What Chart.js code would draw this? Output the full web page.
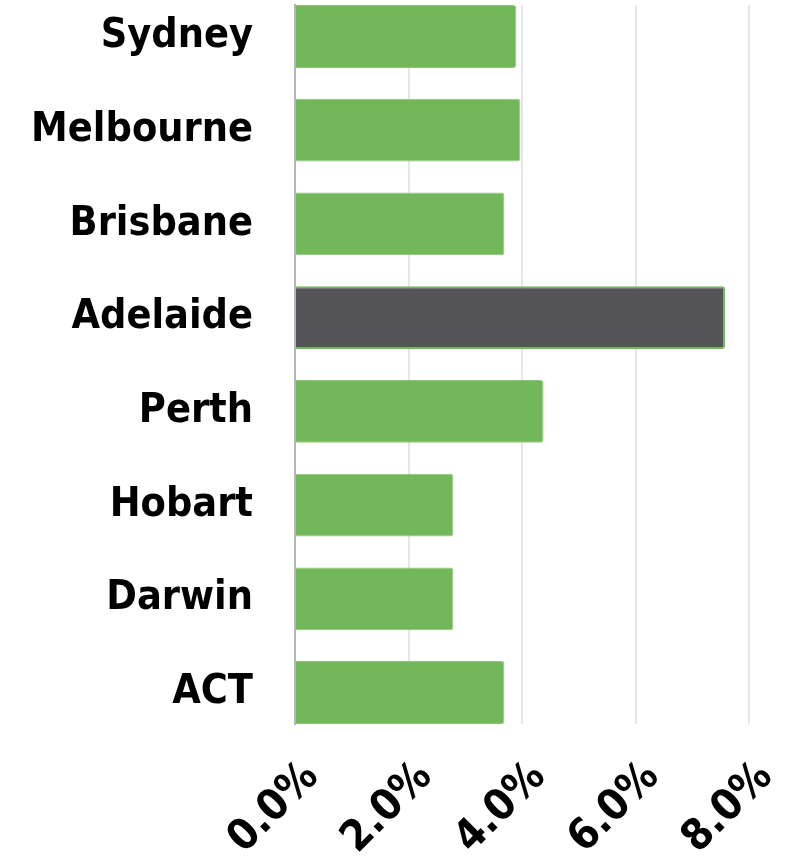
<!DOCTYPE html>
<html>
<head>
<meta charset="utf-8">
<script src="https://cdn.jsdelivr.net/npm/chart.js@4.4.1/dist/chart.umd.min.js"></script>
<style>
  html, body { margin: 0; padding: 0; background: #fff; }
  #wrap { width: 794px; height: 859px; position: relative; }
</style>
</head>
<body>
<div id="wrap"><canvas id="cityChart"></canvas></div>
<script>
// values
const cities = ['Sydney', 'Melbourne', 'Brisbane', 'Adelaide', 'Perth', 'Hobart', 'Darwin', 'ACT'];
const rates = [3.90, 3.97, 3.69, 7.58, 4.38, 2.79, 2.79, 3.69];
const xTicks = [0, 2, 4, 6, 8];
const highlight = 'Adelaide';

const green = '#72b85b';
const dark = '#545358';
const labelFont = "'Liberation Sans Narrow', 'DejaVu Sans Condensed', 'Arial Narrow', sans-serif";

const points = rates.map((v, i) => ({ x: v, y: i }));

const chartCities = () => {
    const ctx = document.getElementById('cityChart').getContext('2d');
    new Chart(ctx, {
        type: 'bar',
        data: {
            datasets: [{
                label: 'Rate',
                data: points,
                backgroundColor: cities.map(c => c === highlight ? dark : green),
                borderColor: cities.map(c => c === highlight ? green : '#8cc67a'),
                borderWidth: cities.map(c => c === highlight ? 2 : 1),
                borderSkipped: 'left',
                borderRadius: 3,
                categoryPercentage: 1,
                barPercentage: 0.67
            }]
        },
        options: {
            indexAxis: 'y',
            responsive: true,
            maintainAspectRatio: false,
            animation: false,
            layout: { padding: { top: 5, right: 45, left: 0, bottom: 0 } },
            plugins: {
                legend: { display: false },
                tooltip: { enabled: false }
            },
            scales: {
                x: {
                    type: 'linear',
                    min: 0,
                    max: 8,
                    afterBuildTicks: s => { s.ticks = xTicks.map(v => ({ value: v })); },
                    grid: { color: '#e6e6e6', lineWidth: 2, drawTicks: false },
                    border: { display: false },
                    ticks: {
                        maxRotation: 45,
                        minRotation: 45,
                        padding: 28,
                        labelOffset: 17,
                        color: '#000',
                        font: { family: labelFont, size: 43, weight: 'bold' },
                        callback: v => v.toFixed(1) + '%'
                    },
                    afterFit: s => { s.height = 135; s.paddingLeft = 0; s.paddingRight = 0; }
                },
                y: {
                    type: 'linear',
                    reverse: true,
                    offset: false,
                    bounds: 'data',
                    min: -0.336,
                    max: 7.336,
                    afterBuildTicks: s => { s.ticks = cities.map((c, i) => ({ value: i })); },
                    grid: { display: false, offset: false },
                    border: { display: true, color: '#b5b5b5', width: 2 },
                    ticks: {
                        autoSkip: false,
                        padding: 34,
                        color: '#000',
                        font: { family: labelFont, size: 41, weight: 'bold' },
                        callback: v => cities[v]
                    },
                    afterFit: s => { s.width = 295; s.paddingTop = 0; s.paddingBottom = 0; }
                }
            }
        }
    });
};

chartCities();
</script>
</body>
</html>
